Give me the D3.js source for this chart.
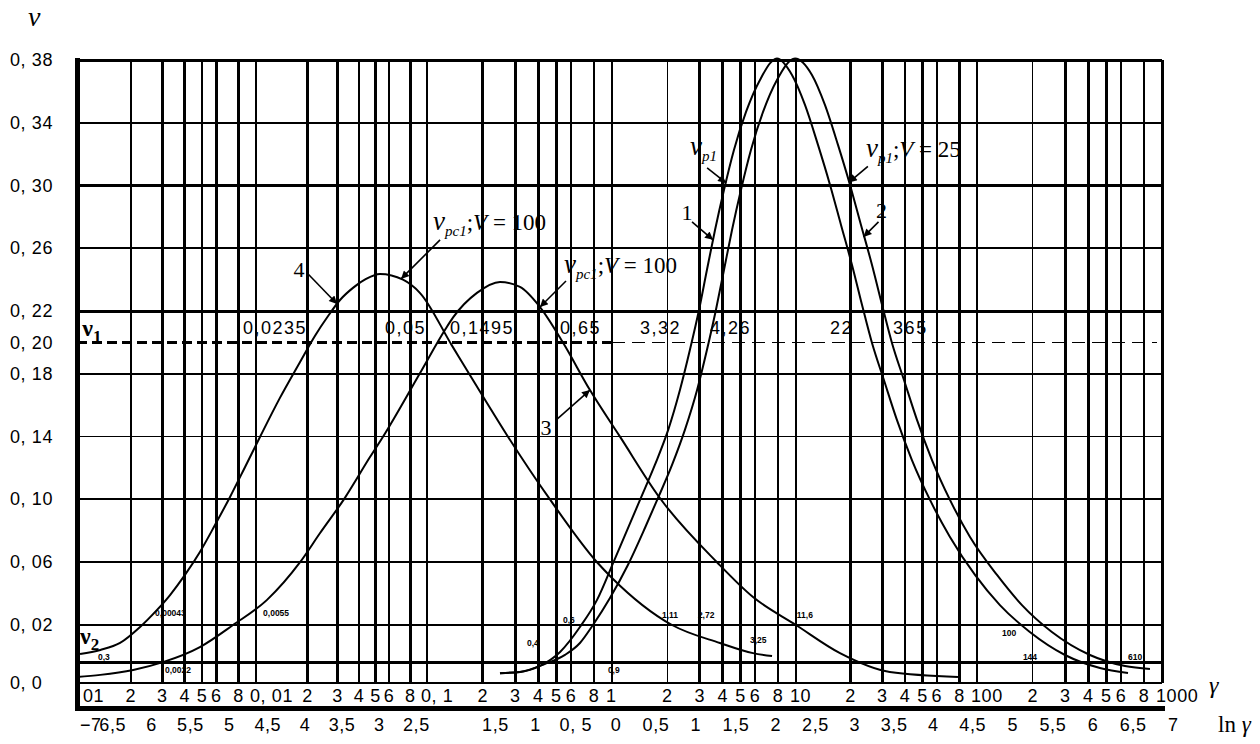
<!DOCTYPE html>
<html>
<head>
<meta charset="utf-8">
<script src="https://cdn.jsdelivr.net/npm/d3@7"></script>
<style>
  body { margin: 0; background: #fff; }
  text { fill: #000; }
  .tick { font-family: "Liberation Sans", Arial, sans-serif; font-size: 18px; letter-spacing: 0.6px; }
  .mid { font-family: "Liberation Sans", Arial, sans-serif; font-size: 18px; letter-spacing: 1.5px; }
  .tiny { font-family: "Liberation Sans", Arial, sans-serif; font-size: 8.5px; font-weight: bold; }
  .serif { font-family: "Liberation Serif", "DejaVu Serif", serif; }
</style>
</head>
<body>
<svg id="chart" width="1260" height="744"></svg>
<script>
// gamma axis (log), decades and the sub-lines drawn in each decade
const decades = [0.001, 0.01, 0.1, 1, 10, 100];
const steps = [1, 2, 3, 4, 5, 6, 8];
const decadeLabels = ["01", "0, 01", "0, 1", "1", "10", "100", "1000"];
const thinLines = [0.06, 2, 200];

// ln(gamma) row
const lnValues = [-7, -6.5, -6, -5.5, -5, -4.5, -4, -3.5, -3, -2.5, -1.5, -1, -0.5, 0, 0.5, 1, 1.5, 2, 2.5, 3, 3.5, 4, 4.5, 5, 5.5, 6, 6.5, 7];
const lnLabels = ["−7", "6,5", "6", "5,5", "5", "4,5", "4", "3,5", "3", "2,5", "1,5", "1", "0, 5", "0", "0,5", "1", "1,5", "2", "2,5", "3", "3,5", "4", "4,5", "5", "5,5", "6", "6,5", "7"];

// nu axis
const nuTicks = [0.38, 0.34, 0.30, 0.26, 0.22, 0.20, 0.18, 0.14, 0.10, 0.06, 0.02, 0];
const nuTickLabels = ["0, 38", "0, 34", "0, 30", "0, 26", "0, 22", "0, 20", "0, 18", "0, 14", "0, 10", "0, 06", "0, 02", "0, 0"];
const nuGrid = [0.38, 0.34, 0.30, 0.26, 0.22, 0.18, 0.14, 0.10, 0.06, 0.02, 0.007, 0];
const nuGridWidth = [3, 2.3, 2.3, 2.3, 3, 2, 1.6, 2, 2.5, 2.7, 2.5, 2];
const nuDashed = 0.20;

// curves [gamma, nu]
const curve4 = [[0.00104, 0.010], [0.00135, 0.0114], [0.00174, 0.0138], [0.00225, 0.0193], [0.0028, 0.0296],
  [0.00331, 0.0391], [0.00401, 0.0519], [0.00486, 0.0665], [0.0059, 0.0837], [0.00716, 0.1016], [0.00869, 0.1207],
  [0.01055, 0.1398], [0.0138, 0.1647], [0.0181, 0.1876], [0.0221, 0.2042], [0.0264, 0.2169], [0.031, 0.2271],
  [0.0369, 0.2348], [0.044, 0.2405], [0.0531, 0.2437], [0.0724, 0.240], [0.0911, 0.2315], [0.1365, 0.198],
  [0.211, 0.1615], [0.274, 0.140], [0.462, 0.100], [0.83, 0.060], [1.0, 0.050], [2.12, 0.020], [3.86, 0.0138],
  [5.84, 0.0103], [7.41, 0.0093]];
const curve3 = [[0.001, 0.0021], [0.00135, 0.0028], [0.00206, 0.0045], [0.00302, 0.0072], [0.00486, 0.0124],
  [0.00744, 0.020], [0.0116, 0.036], [0.0181, 0.060], [0.0237, 0.0786], [0.0331, 0.101], [0.0464, 0.127],
  [0.0553, 0.140], [0.0911, 0.1806], [0.125, 0.208], [0.1384, 0.216], [0.1862, 0.2316], [0.248, 0.2386],
  [0.318, 0.2354], [0.408, 0.2226], [0.543, 0.2000], [0.76, 0.1697], [1.105, 0.140], [1.82, 0.1009],
  [3.72, 0.060], [5.84, 0.0378], [10, 0.020], [17.5, 0.0103], [33, 0.0038], [78.5, 0.0021]];
const curve1 = [[0.248, 0.0034], [0.318, 0.0038], [0.408, 0.0059], [0.524, 0.0107], [0.671, 0.0193], [0.83, 0.036],
  [1.03, 0.0614], [1.42, 0.0997], [1.71, 0.122], [2.02, 0.1443], [2.34, 0.1697], [2.65, 0.1952], [2.97, 0.2207],
  [3.28, 0.2462], [3.63, 0.2717], [4.06, 0.2972], [4.60, 0.3227], [5.35, 0.3469], [6.37, 0.3673], [7.88, 0.381],
  [9.51, 0.3705], [11.21, 0.3514], [13.23, 0.3259], [15.42, 0.3004], [17.73, 0.2749], [20.39, 0.2494],
  [23.17, 0.2239], [26.3, 0.1997], [30.6, 0.1761], [36.1, 0.1507], [43.7, 0.1251], [55.0, 0.0997], [70.9, 0.0761],
  [97.5, 0.0519], [133, 0.0327], [193, 0.0176], [299, 0.00966], [462, 0.00517], [655, 0.00345]];
const curve2 = [[0.248, 0.0034], [0.318, 0.0038], [0.435, 0.0066], [0.557, 0.0097], [0.671, 0.0138], [0.789, 0.020],
  [0.975, 0.0372], [1.22, 0.0582], [1.51, 0.0818], [1.76, 0.0997], [2.12, 0.122], [2.49, 0.1443], [2.90, 0.1697],
  [3.28, 0.1952], [3.67, 0.2207], [4.06, 0.2462], [4.49, 0.2717], [5.02, 0.2972], [5.69, 0.3227], [6.62, 0.3469],
  [7.88, 0.3673], [9.88, 0.381], [12.25, 0.3705], [14.45, 0.3514], [17.06, 0.3259], [19.88, 0.3004],
  [22.86, 0.2749], [26.3, 0.2494], [29.9, 0.2239], [33.9, 0.1997], [39.5, 0.1761], [46.6, 0.1507], [56.4, 0.1251],
  [70.9, 0.0997], [91.5, 0.0761], [128.3, 0.0519], [175, 0.0327], [254, 0.0176], [408, 0.00966], [631, 0.00586],
  [861, 0.00483]];

// values written on the nu = 0.2 level [text, gamma]
const midNotes = [["0,0235", 0.00846], ["0,05", 0.0568], ["0,1495", 0.133], ["0,65", 0.524],
  ["3,32", 1.42], ["4,26", 3.41], ["22", 15.4], ["365", 34.4]];
// small values near the bottom [text, gamma, nu]
const tinyNotes = [["0,00043", 0.00273, 0.0276], ["0,0055", 0.011, 0.0276], ["0,3", 0.00131, 0.009],
  ["0,0022", 0.0031, 0.0045], ["0,4", 0.347, 0.0138], ["0,6", 0.543, 0.0232], ["0,9", 0.95, 0.0045],
  ["1,11", 1.87, 0.0264], ["2,72", 2.93, 0.0264], ["11,6", 10.1, 0.0264], ["3,25", 5.62, 0.0148],
  ["100", 136.5, 0.0172], ["144", 177, 0.009], ["610", 655, 0.009]];

// arrow labels: target point on a curve, then tail / text offsets in px
const nuPc = [{t: "ν", it: 1, size: 27}, {t: "pc1", it: 1, size: 15, sub: 1}, {t: ";", size: 23}, {t: "V", it: 1, size: 23}, {t: " = 100", size: 23}];
const notes = [
  {at: [0.0298, 0.2245], tail: [-29, -30], pos: [-38, -35], parts: [{t: "4", size: 22}], anchor: "middle"},
  {at: [0.0705, 0.2405], tail: [39, -39], pos: [32, -49], parts: nuPc, anchor: "start"},
  {at: [0.408, 0.2226], tail: [26, -26], pos: [24, -34], parts: nuPc, anchor: "start"},
  {at: [0.76, 0.1697], tail: [-34, 30], pos: [-44, 37], parts: [{t: "3", size: 22}], anchor: "middle"},
  {at: [4.17, 0.3017], tail: [-19, -15], pos: [-36, -28], parts: [{t: "ν", it: 1, size: 27}, {t: "p1", it: 1, size: 15, sub: 1}], anchor: "start"},
  {at: [3.54, 0.2654], tail: [-21, -18], pos: [-26, -28], parts: [{t: "1", size: 22}], anchor: "middle"},
  {at: [19.6, 0.302], tail: [19, -16], pos: [17, -25], parts: [{t: "ν", it: 1, size: 27}, {t: "p1", it: 1, size: 15, sub: 1}, {t: ";", size: 23}, {t: "V", it: 1, size: 23}, {t: " = 25", size: 23}], anchor: "start"},
  {at: [23.6, 0.2673], tail: [15, -15], pos: [18, -27], parts: [{t: "2", size: 22}], anchor: "middle"}
];

const svg = d3.select("#chart");

// scales: log gamma drawn decade by decade, nu linear with a stretched bottom band
const x = d3.scaleLog()
  .domain([0.001, 0.01, 0.1, 1, 10, 100, 1000])
  .range([77, 256, 427, 612, 796, 977, 1162]);
const y = d3.scaleLinear()
  .domain([0, 0.02, 0.38])
  .range([683, 625, 60]);

const gammaLines = decades.flatMap(d => steps.map(s => +(d * s).toPrecision(3))).concat([1000]);
const isDecade = d => Math.abs(Math.log10(d) - Math.round(Math.log10(d))) < 1e-9;

svg.append("defs").append("marker")
  .attr("id", "arrow")
  .attr("viewBox", "0 0 10 10")
  .attr("refX", 10).attr("refY", 5)
  .attr("markerWidth", 12).attr("markerHeight", 8)
  .attr("markerUnits", "userSpaceOnUse")
  .attr("orient", "auto")
  .append("path").attr("d", "M0,0L10,5L0,10Z").attr("fill", "#000");

// vertical grid
const grid = svg.append("g").attr("shape-rendering", "crispEdges");
grid.selectAll("line.v")
  .data(gammaLines)
  .join("line")
  .attr("class", "v")
  .attr("x1", d => x(d)).attr("x2", d => x(d))
  .attr("y1", y(0.38)).attr("y2", y(0))
  .attr("stroke", "#000")
  .attr("stroke-width", d => thinLines.includes(d) ? 1.5 : 2.6);

// horizontal grid
grid.selectAll("line.h")
  .data(nuGrid)
  .join("line")
  .attr("class", "h")
  .attr("x1", x(0.001)).attr("x2", x(1000))
  .attr("y1", d => y(d)).attr("y2", d => y(d))
  .attr("stroke", "#000")
  .attr("stroke-width", (d, i) => nuGridWidth[i]);

// dashed nu level
grid.append("line")
  .attr("x1", x(0.001)).attr("x2", x(1))
  .attr("y1", y(nuDashed)).attr("y2", y(nuDashed))
  .attr("stroke", "#000").attr("stroke-width", 2.6).attr("stroke-dasharray", "10,5");
grid.append("line")
  .attr("x1", x(1)).attr("x2", x(1000) - 5)
  .attr("y1", y(nuDashed)).attr("y2", y(nuDashed))
  .attr("stroke", "#000").attr("stroke-width", 1.6).attr("stroke-dasharray", "13,7");

// heavy frame: left edge and bottom bar
const bottomBar = y(0) + 25;
grid.append("line")
  .attr("x1", x(0.001)).attr("x2", x(0.001))
  .attr("y1", y(0.38) - 2).attr("y2", bottomBar + 2)
  .attr("stroke", "#000").attr("stroke-width", 5);
grid.append("line")
  .attr("x1", x(0.001) - 2).attr("x2", x(1000) + 3)
  .attr("y1", bottomBar).attr("y2", bottomBar)
  .attr("stroke", "#000").attr("stroke-width", 5);
grid.append("line")
  .attr("x1", x(1000)).attr("x2", x(1000))
  .attr("y1", y(0.38)).attr("y2", y(0))
  .attr("stroke", "#000").attr("stroke-width", 3);

// curves
const line = d3.line()
  .x(d => x(d[0]))
  .y(d => y(d[1]))
  .curve(d3.curveMonotoneX);

svg.append("g")
  .selectAll("path")
  .data([curve4, curve3, curve1, curve2])
  .join("path")
  .attr("d", line)
  .attr("fill", "none")
  .attr("stroke", "#000")
  .attr("stroke-width", 2);

// gamma tick labels
svg.append("g").attr("class", "tick")
  .selectAll("text")
  .data(gammaLines)
  .join("text")
  .attr("x", (d, i) => i === 0 ? x(d) + 6 : (isDecade(d) ? x(d) - 6 : x(d)))
  .attr("y", y(0) + 19)
  .attr("text-anchor", (d, i) => (i === 0 || isDecade(d)) ? "start" : "middle")
  .text(d => {
    if (isDecade(d)) return decadeLabels[Math.round(Math.log10(d)) + 3];
    return String(Math.round(d / Math.pow(10, Math.floor(Math.log10(d) + 1e-9))));
  });

// ln gamma row
svg.append("g").attr("class", "tick")
  .selectAll("text")
  .data(lnValues)
  .join("text")
  .attr("x", (d, i) => i === 0 ? x(0.001) + 3 : x(Math.exp(d)) + 4)
  .attr("y", bottomBar + 23)
  .attr("text-anchor", (d, i) => i === 0 ? "start" : "middle")
  .text((d, i) => lnLabels[i]);

// nu tick labels
svg.append("g").attr("class", "tick")
  .selectAll("text")
  .data(nuTicks)
  .join("text")
  .attr("x", 10)
  .attr("y", d => y(d))
  .attr("dominant-baseline", "central")
  .text((d, i) => nuTickLabels[i]);

// axis names
svg.append("text").attr("class", "serif")
  .attr("x", 28).attr("y", 26)
  .attr("font-size", 28).attr("font-style", "italic")
  .text("ν");
svg.append("text").attr("class", "serif")
  .attr("x", 1209).attr("y", y(0) + 10)
  .attr("font-size", 24).attr("font-style", "italic")
  .text("γ");
const lnName = svg.append("text").attr("class", "serif")
  .attr("x", 1218).attr("y", bottomBar + 24)
  .attr("font-size", 23);
lnName.append("tspan").text("ln ");
lnName.append("tspan").attr("font-style", "italic").text("γ");

function richText(sel, parts, bold) {
  let shift = 0;
  parts.forEach(p => {
    const sub = p.sub ? 6 : 0;
    sel.append("tspan")
      .text(p.t)
      .attr("dy", sub - shift)
      .attr("font-size", p.size || 22)
      .attr("font-style", p.it ? "italic" : "normal")
      .attr("font-weight", bold ? "bold" : "normal");
    shift = sub;
  });
}

// nu1 and nu2 levels
richText(svg.append("text").attr("class", "serif").attr("x", x(0.00107)).attr("y", y(0.208) + 6),
  [{t: "ν", size: 24}, {t: "1", size: 17, sub: 1}], true);
richText(svg.append("text").attr("class", "serif").attr("x", x(0.00104)).attr("y", y(0.0148) + 4),
  [{t: "ν", size: 24}, {t: "2", size: 17, sub: 1}], true);

// values along the nu = 0.2 level
svg.append("g").attr("class", "mid")
  .selectAll("text")
  .data(midNotes)
  .join("text")
  .attr("x", d => x(d[1]))
  .attr("y", y(0.209))
  .attr("dominant-baseline", "central")
  .text(d => d[0]);

svg.append("g").attr("class", "tiny")
  .selectAll("text")
  .data(tinyNotes)
  .join("text")
  .attr("x", d => x(d[1]))
  .attr("y", d => y(d[2]))
  .attr("dominant-baseline", "central")
  .text(d => d[0]);

// arrows with their labels
const ann = svg.append("g");
notes.forEach(n => {
  const px = x(n.at[0]), py = y(n.at[1]);
  ann.append("line")
    .attr("x1", px + n.tail[0]).attr("y1", py + n.tail[1])
    .attr("x2", px).attr("y2", py)
    .attr("stroke", "#000").attr("stroke-width", 1.6)
    .attr("marker-end", "url(#arrow)");
  const t = ann.append("text").attr("class", "serif")
    .attr("x", px + n.pos[0]).attr("y", py + n.pos[1])
    .attr("text-anchor", n.anchor);
  if (n.anchor === "middle") t.attr("dominant-baseline", "central");
  richText(t, n.parts, false);
});
</script>
</body>
</html>
